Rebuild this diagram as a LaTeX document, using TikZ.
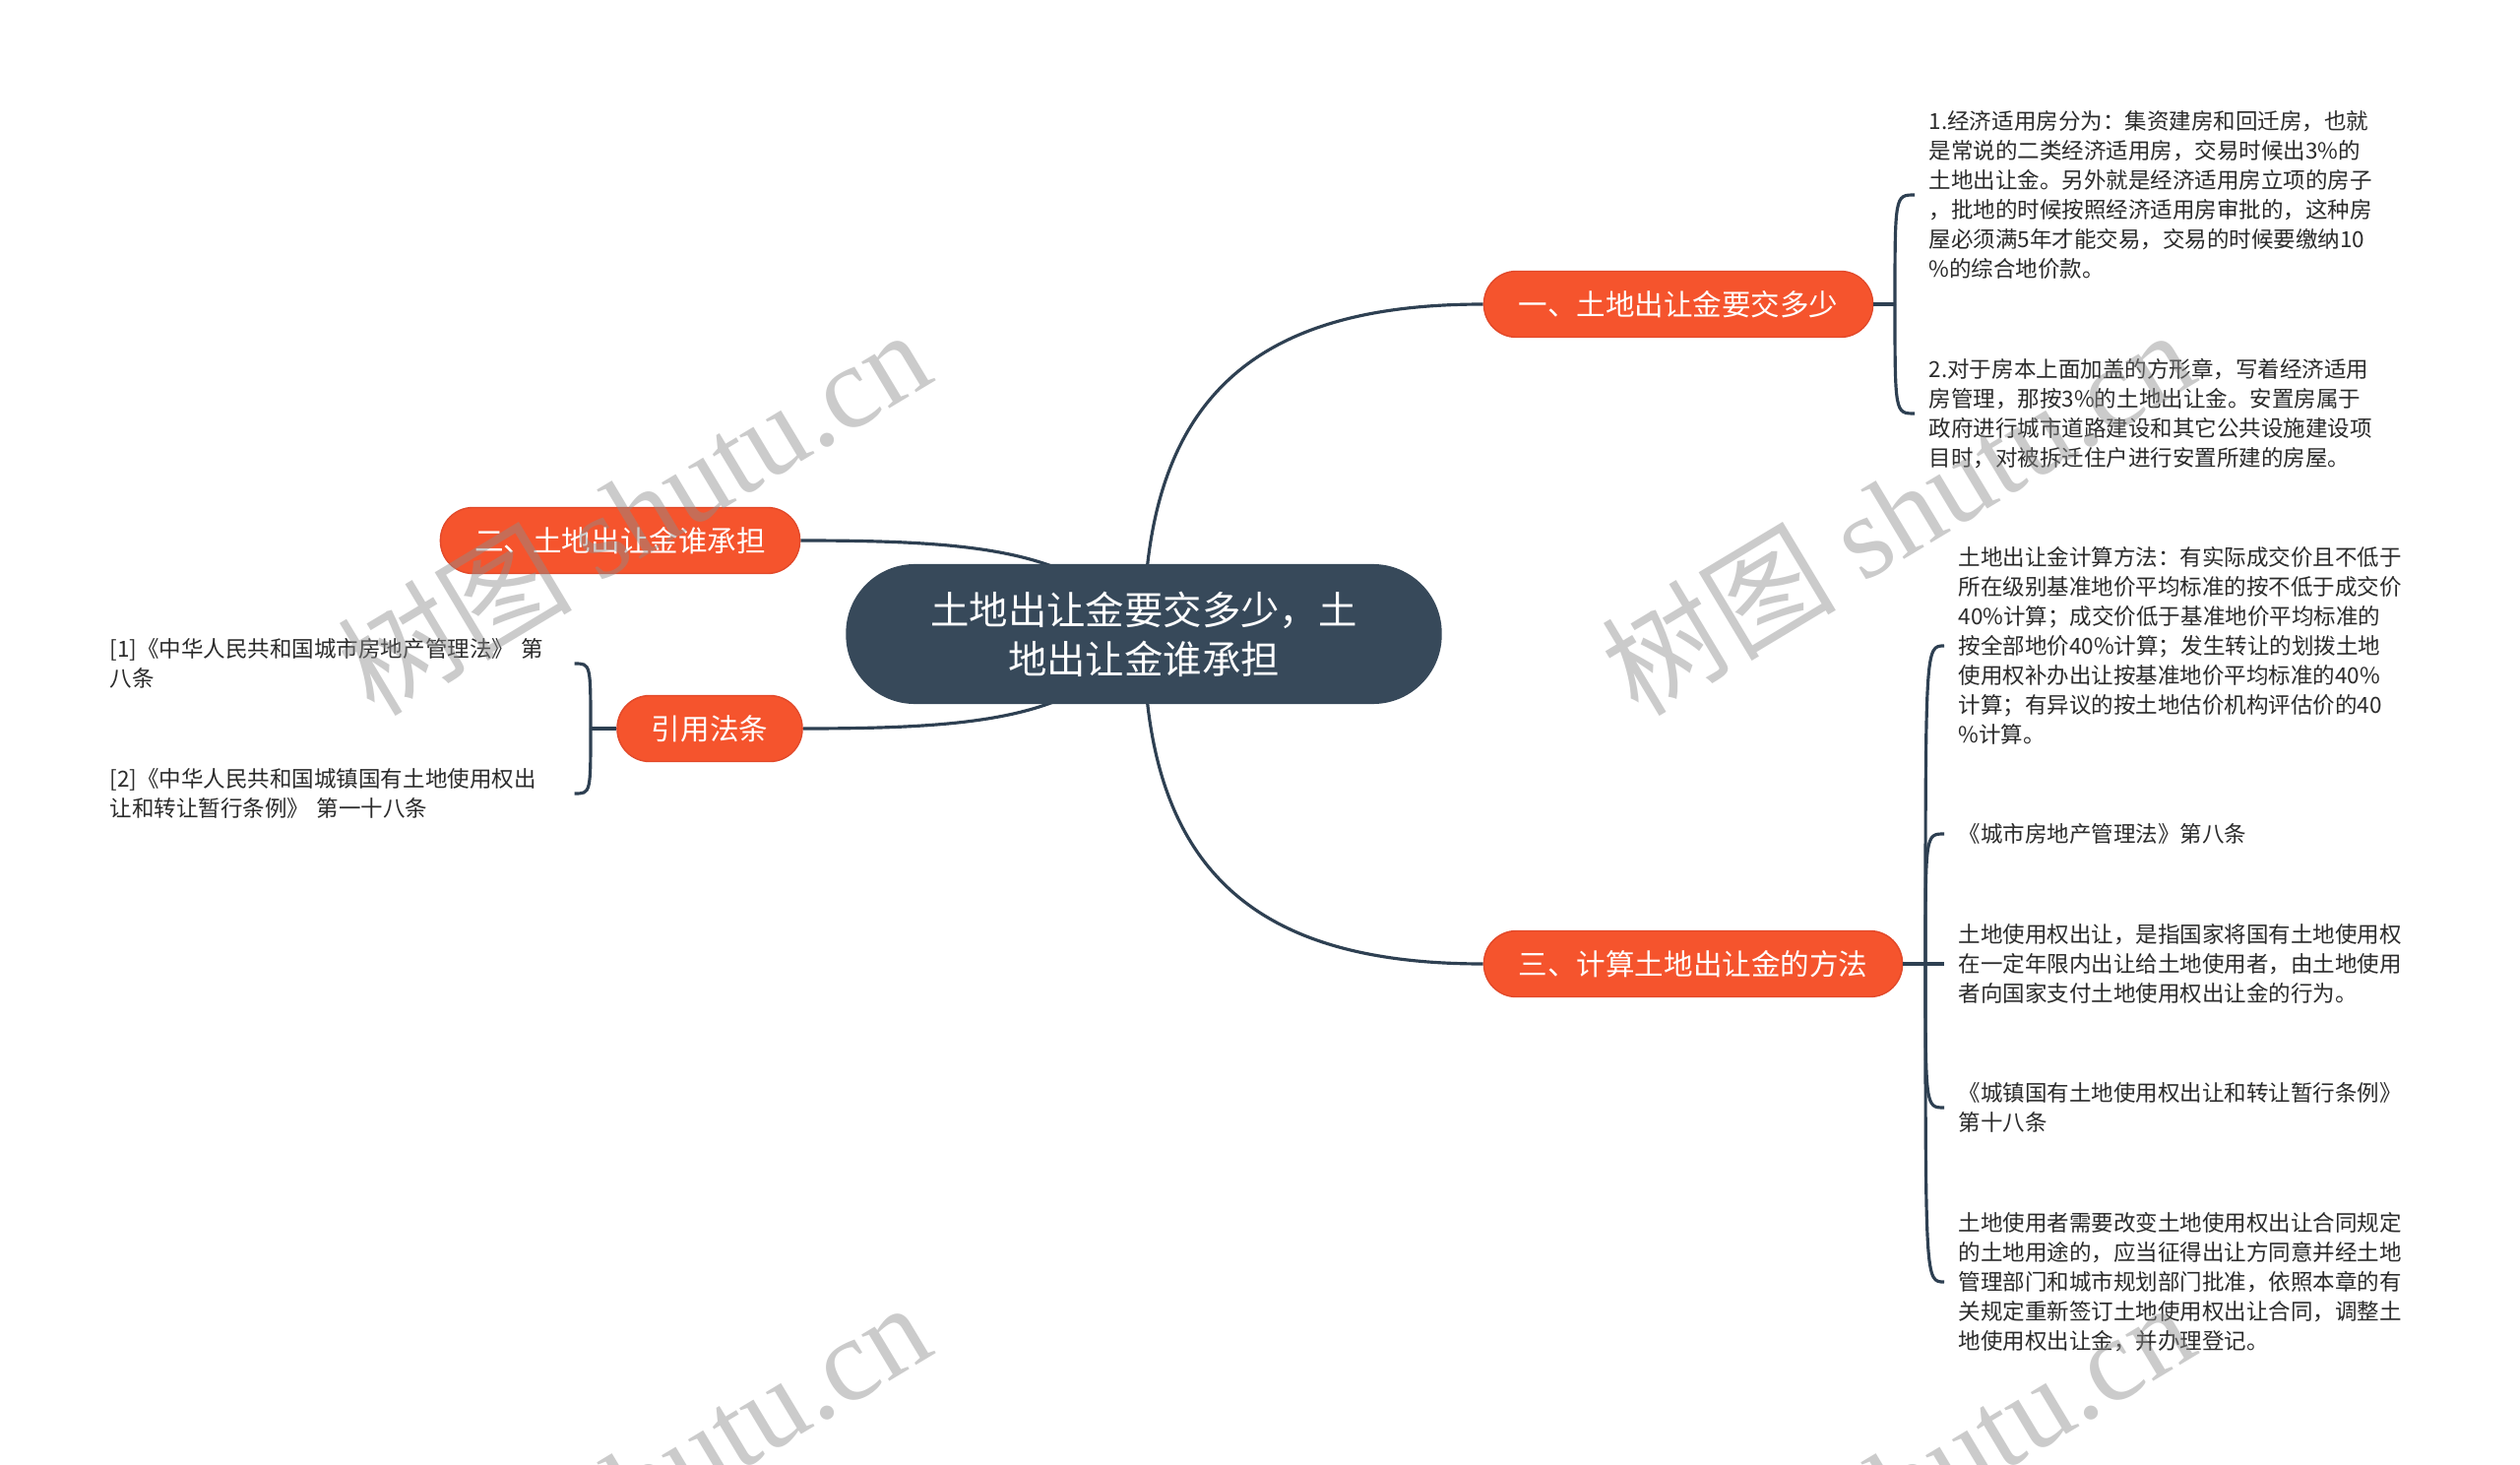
\documentclass[tikz,border=0pt]{standalone}
\usepackage{fontspec}
\setmainfont{Noto Sans CJK SC}
\newfontfamily\wmlatin{Liberation Serif}
\definecolor{rootclr}{HTML}{37495A}
\definecolor{branchclr}{HTML}{F5542D}
\definecolor{branchedge}{HTML}{E2492A}
\definecolor{linkclr}{HTML}{2E4052}
\definecolor{leaftext}{HTML}{2B2B2B}
\usetikzlibrary{backgrounds}

\begin{document}
\begin{tikzpicture}[
    x=0.01cm, y=-0.01cm,
    topic/.style={rectangle, rounded corners=0.7cm, fill=rootclr, text=white,
                  minimum width=6.05cm, minimum height=1.42cm, align=center,
                  font=\fontsize{11.2}{14.2}\selectfont},
    branch/.style={rectangle, rounded corners=0.33cm, fill=branchclr, draw=branchedge,
                   line width=0.4pt, text=white, minimum height=0.67cm,
                   font=\fontsize{8.4}{10}\selectfont},
    leaf/.style={anchor=west, inner xsep=0.14cm, inner ysep=0pt, text width=4.7cm,
                 align=left, text=leaftext, font=\fontsize{6.4}{8.5}\selectfont},
    link/.style={draw=linkclr, line width=0.9pt},
    wmark/.style={rotate=31, text=black!45, opacity=0.45,
                  font=\fontsize{34}{34}\selectfont}
  ]
    \useasboundingbox (0,0) rectangle (2560,1488);

    \node[topic] (root) at (1162,644) {土地出让金要交多少，土\\地出让金谁承担};

    \node[branch, minimum width=3.95cm] (b1) at (1705,309) {一、土地出让金要交多少};
    \node[branch, minimum width=3.65cm] (b2) at (630,549) {二、土地出让金谁承担};
    \node[branch, minimum width=4.25cm] (b3) at (1720,979) {三、计算土地出让金的方法};
    \node[branch, minimum width=1.88cm] (b4) at (721,740) {引用法条};

    \node[leaf] (l1) at (1945,198)
      {1.经济适用房分为：集资建房和回迁房，也就\\是常说的二类经济适用房，交易时候出3\%的\\土地出让金。另外就是经济适用房立项的房子\\，批地的时候按照经济适用房审批的，这种房\\屋必须满5年才能交易，交易的时候要缴纳10\\\%的综合地价款。};
    \node[leaf] (l2) at (1945,420)
      {2.对于房本上面加盖的方形章，写着经济适用\\房管理，那按3\%的土地出让金。安置房属于\\政府进行城市道路建设和其它公共设施建设项\\目时，对被拆迁住户进行安置所建的房屋。};

    \node[leaf] (l3a) at (1975,656)
      {土地出让金计算方法：有实际成交价且不低于\\所在级别基准地价平均标准的按不低于成交价\\40\%计算；成交价低于基准地价平均标准的\\按全部地价40\%计算；发生转让的划拨土地\\使用权补办出让按基准地价平均标准的40\%\\计算；有异议的按土地估价机构评估价的40\\\%计算。};
    \node[leaf] (l3b) at (1975,847) {《城市房地产管理法》第八条};
    \node[leaf] (l3c) at (1975,979)
      {土地使用权出让，是指国家将国有土地使用权\\在一定年限内出让给土地使用者，由土地使用\\者向国家支付土地使用权出让金的行为。};
    \node[leaf] (l3d) at (1975,1125) {《城镇国有土地使用权出让和转让暂行条例》\\第十八条};
    \node[leaf] (l3e) at (1975,1302)
      {土地使用者需要改变土地使用权出让合同规定\\的土地用途的，应当征得出让方同意并经土地\\管理部门和城市规划部门批准，依照本章的有\\关规定重新签订土地使用权出让合同，调整土\\地使用权出让金，并办理登记。};

    \node[leaf, text width=4.57cm] (l4a) at (97,674)
      {[1]《中华人民共和国城市房地产管理法》 第\\八条};
    \node[leaf, text width=4.57cm] (l4b) at (97,806)
      {[2]《中华人民共和国城镇国有土地使用权出\\让和转让暂行条例》 第一十八条};

    \coordinate (j1) at (1925,309);
    \coordinate (j3) at (1956,979);
    \coordinate (j4) at (600,740);

    \begin{scope}[on background layer]
      \fill[white] (0,0) rectangle (2560,1488);
      \draw[link] (root.center) .. controls +(0,-244) and +(-228,0) .. (b1.west);
      \draw[link] (root.center) .. controls +(0,244) and +(-228,0) .. (b3.west);
      \draw[link] (b2.east) .. controls +(187,0) and +(-62,-84) .. (root.center);
      \draw[link] (b4.east) .. controls +(187,0) and +(-62,84) .. (root.center);
    \end{scope}

    \draw[link] (b1.east) -- (j1);
    \draw[link] (j1) .. controls (j1 |- l1.west) .. (l1.west);
    \draw[link] (j1) .. controls (j1 |- l2.west) .. (l2.west);

    \draw[link] (b3.east) -- (l3c.west);
    \draw[link] (j3) .. controls (j3 |- l3a.west) .. (l3a.west);
    \draw[link] (j3) .. controls (j3 |- l3b.west) .. (l3b.west);
    \draw[link] (j3) .. controls (j3 |- l3d.west) .. (l3d.west);
    \draw[link] (j3) .. controls (j3 |- l3e.west) .. (l3e.west);

    \draw[link] (b4.west) -- (j4);
    \draw[link] (j4) .. controls (j4 |- l4a.east) .. (l4a.east);
    \draw[link] (j4) .. controls (j4 |- l4b.east) .. (l4b.east);

    \begin{scope}
      \clip (0,0) rectangle (2560,1488);
      \node[wmark] (wm1) at (643,519) {树图 {\wmlatin shutu.cn}};
      \node[wmark] (wm2) at (1927,519) {树图 {\wmlatin shutu.cn}};
      \node[wmark] (wm3) at (643,1507) {树图 {\wmlatin shutu.cn}};
      \node[wmark] (wm4) at (1927,1507) {树图 {\wmlatin shutu.cn}};
    \end{scope}
  \end{tikzpicture}
\end{document}
